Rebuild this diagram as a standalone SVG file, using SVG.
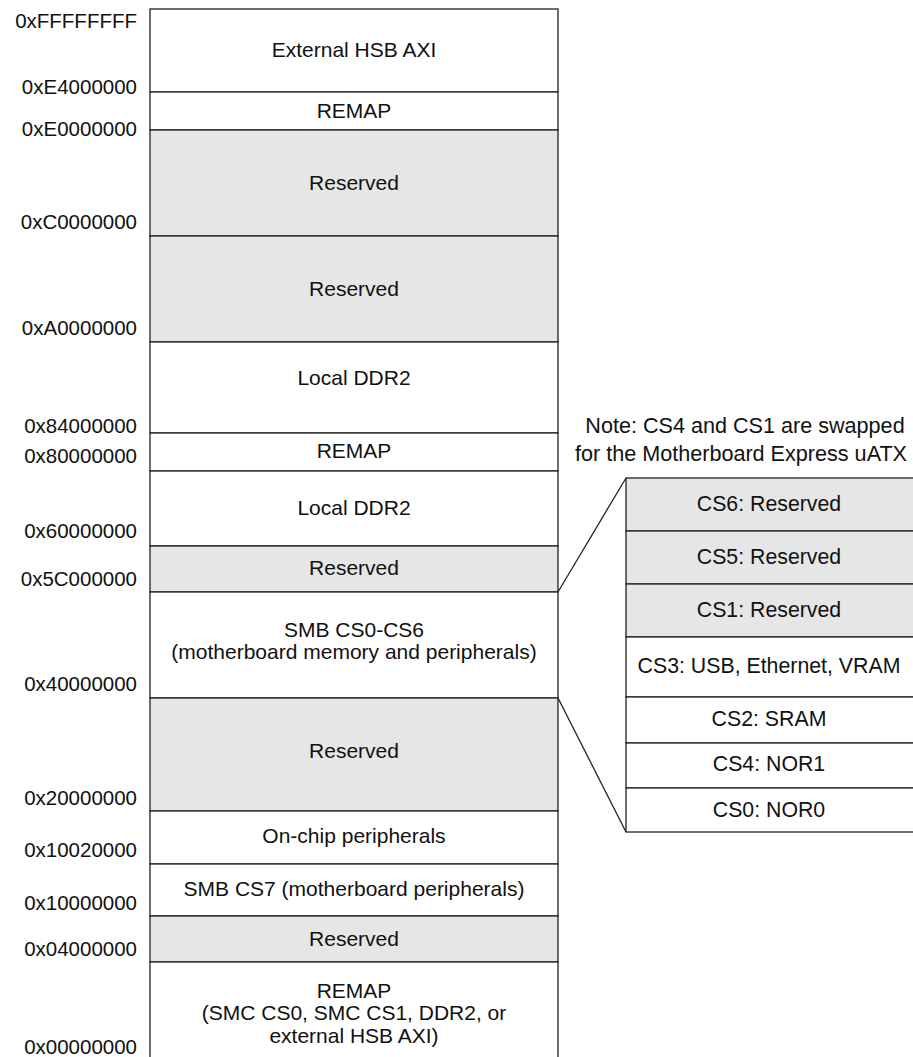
<svg xmlns="http://www.w3.org/2000/svg" width="913" height="1057" viewBox="0 0 913 1057">
  <style>
    text { font-family: "Liberation Sans", Arial, Helvetica, sans-serif; font-size: 21px; fill: #111; }
    .addr { text-anchor: end; font-size: 20.5px; }
    .lbl { text-anchor: middle; }
    .cs { text-anchor: middle; font-size: 21.3px; }
    .note { text-anchor: middle; font-size: 21.6px; }
    .free { fill: #ffffff; stroke: #222; stroke-width: 1.3; }
    .resv { fill: #e6e6e6; stroke: #222; stroke-width: 1.3; }
    .link { fill: none; stroke: #222; stroke-width: 1.3; }
  </style>

  <!-- Main memory map column (x 150..558) -->
  <g id="ext-hsb-axi">
    <rect class="free" x="150" y="9" width="408" height="83"/>
    <text class="lbl" x="354" y="57">External HSB AXI</text>
  </g>
  <g id="remap-high">
    <rect class="free" x="150" y="92" width="408" height="38"/>
    <text class="lbl" x="354" y="118">REMAP</text>
  </g>
  <g id="reserved-c0">
    <rect class="resv" x="150" y="130" width="408" height="106"/>
    <text class="lbl" x="354" y="190">Reserved</text>
  </g>
  <g id="reserved-a0">
    <rect class="resv" x="150" y="236" width="408" height="106"/>
    <text class="lbl" x="354" y="296">Reserved</text>
  </g>
  <g id="local-ddr2-high">
    <rect class="free" x="150" y="342" width="408" height="91"/>
    <text class="lbl" x="354" y="385">Local DDR2</text>
  </g>
  <g id="remap-80">
    <rect class="free" x="150" y="433" width="408" height="38"/>
    <text class="lbl" x="354" y="458">REMAP</text>
  </g>
  <g id="local-ddr2-low">
    <rect class="free" x="150" y="471" width="408" height="75"/>
    <text class="lbl" x="354" y="515">Local DDR2</text>
  </g>
  <g id="reserved-5c">
    <rect class="resv" x="150" y="546" width="408" height="46"/>
    <text class="lbl" x="354" y="575">Reserved</text>
  </g>
  <g id="smb-cs0-cs6">
    <rect class="free" x="150" y="592" width="408" height="106"/>
    <text class="lbl" x="354" y="637">SMB CS0-CS6</text>
    <text class="lbl" x="354" y="659">(motherboard memory and peripherals)</text>
  </g>
  <g id="reserved-20">
    <rect class="resv" x="150" y="698" width="408" height="113"/>
    <text class="lbl" x="354" y="758">Reserved</text>
  </g>
  <g id="on-chip-peripherals">
    <rect class="free" x="150" y="811" width="408" height="53"/>
    <text class="lbl" x="354" y="843">On-chip peripherals</text>
  </g>
  <g id="smb-cs7">
    <rect class="free" x="150" y="864" width="408" height="52"/>
    <text class="lbl" x="354" y="896">SMB CS7 (motherboard peripherals)</text>
  </g>
  <g id="reserved-04">
    <rect class="resv" x="150" y="916" width="408" height="46"/>
    <text class="lbl" x="354" y="946">Reserved</text>
  </g>
  <g id="remap-low">
    <rect class="free" x="150" y="962" width="408" height="100"/>
    <text class="lbl" x="354" y="998">REMAP</text>
    <text class="lbl" x="354" y="1020">(SMC CS0, SMC CS1, DDR2, or</text>
    <text class="lbl" x="354" y="1043">external HSB AXI)</text>
  </g>

  <!-- Address labels -->
  <g id="addresses">
    <text class="addr" x="137" y="28">0xFFFFFFFF</text>
    <text class="addr" x="137" y="94">0xE4000000</text>
    <text class="addr" x="137" y="136">0xE0000000</text>
    <text class="addr" x="137" y="229">0xC0000000</text>
    <text class="addr" x="137" y="335">0xA0000000</text>
    <text class="addr" x="137" y="433">0x84000000</text>
    <text class="addr" x="137" y="463">0x80000000</text>
    <text class="addr" x="137" y="538">0x60000000</text>
    <text class="addr" x="137" y="586">0x5C000000</text>
    <text class="addr" x="137" y="691">0x40000000</text>
    <text class="addr" x="137" y="805">0x20000000</text>
    <text class="addr" x="137" y="857">0x10020000</text>
    <text class="addr" x="137" y="910">0x10000000</text>
    <text class="addr" x="137" y="956">0x04000000</text>
    <text class="addr" x="137" y="1054">0x00000000</text>
  </g>

  <!-- Chip-select breakdown of SMB CS0-CS6 -->
  <g id="note">
    <text class="note" x="745" y="433">Note: CS4 and CS1 are swapped</text>
    <text class="note" x="741" y="461">for the Motherboard Express uATX</text>
  </g>
  <g id="cs6">
    <rect class="resv" x="626" y="478" width="290" height="53"/>
    <text class="cs" x="769" y="511">CS6: Reserved</text>
  </g>
  <g id="cs5">
    <rect class="resv" x="626" y="531" width="290" height="53"/>
    <text class="cs" x="769" y="564">CS5: Reserved</text>
  </g>
  <g id="cs1">
    <rect class="resv" x="626" y="584" width="290" height="53"/>
    <text class="cs" x="769" y="617">CS1: Reserved</text>
  </g>
  <g id="cs3">
    <rect class="free" x="626" y="637" width="290" height="60"/>
    <text class="cs" x="769" y="673">CS3: USB, Ethernet, VRAM</text>
  </g>
  <g id="cs2">
    <rect class="free" x="626" y="697" width="290" height="46"/>
    <text class="cs" x="769" y="726">CS2: SRAM</text>
  </g>
  <g id="cs4">
    <rect class="free" x="626" y="743" width="290" height="45"/>
    <text class="cs" x="769" y="771">CS4: NOR1</text>
  </g>
  <g id="cs0">
    <rect class="free" x="626" y="788" width="290" height="44"/>
    <text class="cs" x="769" y="817">CS0: NOR0</text>
  </g>

  <!-- Expansion lines -->
  <g id="connectors">
    <line class="link" x1="558" y1="592" x2="626" y2="478"/>
    <line class="link" x1="558" y1="698" x2="626" y2="832"/>
  </g>
</svg>
